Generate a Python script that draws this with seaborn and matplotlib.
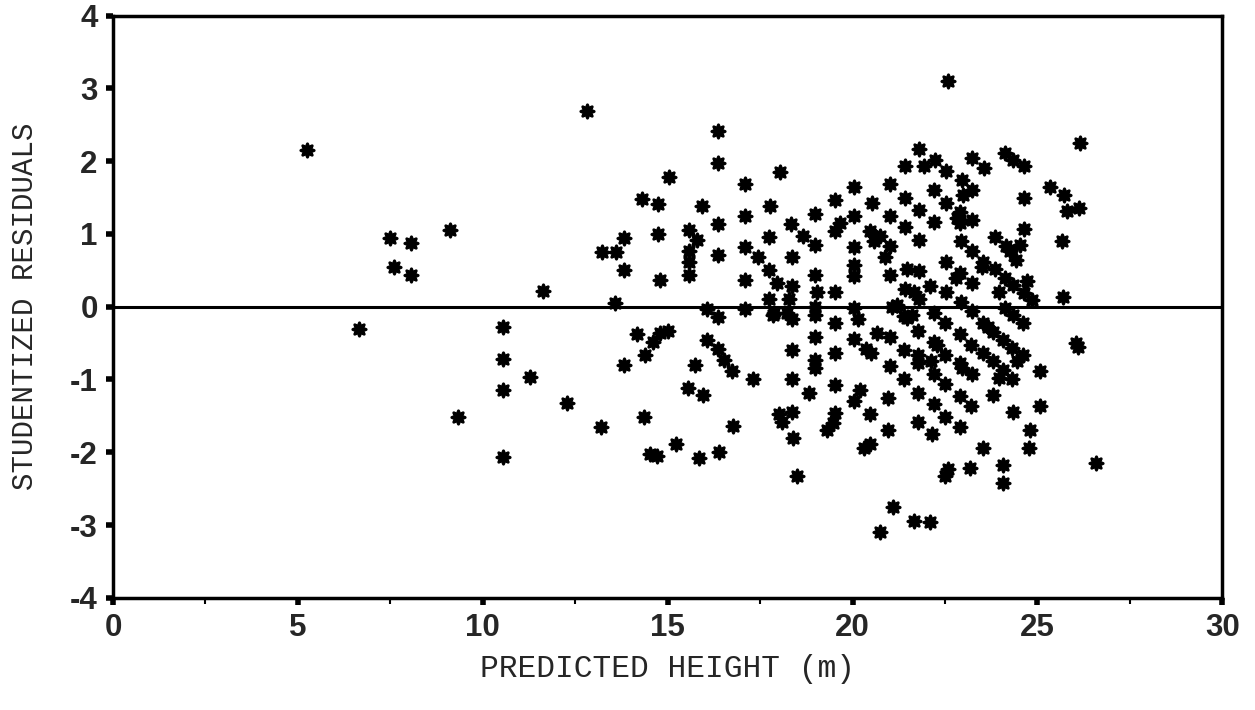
import pandas as pd
import seaborn as sns
import matplotlib.pyplot as plt
from matplotlib.ticker import MultipleLocator

# predicted height (m) and studentized residual
pred_height = [
    5.24, 7.49, 8.05, 9.12, 7.60, 8.05, 6.66, 9.34, 10.56, 10.56,
    10.56, 10.56, 11.28, 12.29, 13.19, 13.82, 14.17, 14.39, 14.61, 14.80,
    15.02, 14.37, 14.53, 14.71, 15.23, 15.86, 16.38, 15.56, 15.95, 15.74,
    16.06, 16.35, 16.51, 16.73, 16.78, 13.58, 16.06, 16.35, 12.83, 11.64,
    13.22, 13.61, 13.82, 13.82, 14.30, 14.75, 14.75, 14.80, 15.04, 15.92,
    15.58, 15.80, 15.58, 15.58, 15.58, 16.37, 16.37, 16.37, 16.35, 17.09,
    17.09, 17.09, 17.09, 17.09, 18.04, 17.77, 17.75, 17.43, 17.75, 17.97,
    17.75, 18.33, 18.66, 18.36, 18.36, 18.29, 17.88, 18.24, 18.99, 18.99,
    18.99, 19.03, 18.99, 19.53, 19.67, 19.53, 19.53, 20.04, 20.04, 20.04,
    20.04, 20.04, 20.04, 20.52, 20.48, 20.61, 20.57, 20.75, 21.00, 21.00,
    21.00, 20.88, 21.00, 21.06, 21.20, 21.42, 21.42, 21.42, 21.47, 21.42,
    21.65, 21.81, 21.92, 22.23, 21.81, 21.81, 21.81, 21.81, 22.19, 22.19,
    22.10, 22.19, 22.53, 22.53, 22.53, 22.53, 21.38, 17.30, 17.86, 18.36,
    18.36, 18.36, 18.00, 18.09, 18.36, 18.40, 18.49, 18.99, 18.99, 18.99,
    18.99, 18.81, 19.53, 19.53, 19.53, 19.53, 19.47, 19.30, 20.16, 20.04,
    20.37, 20.49, 20.21, 20.04, 20.48, 20.48, 20.30, 20.66, 21.00, 21.00,
    20.97, 20.97, 21.09, 20.75, 21.65, 22.10, 21.38, 21.38, 21.47, 21.60,
    21.78, 21.78, 21.78, 21.78, 21.78, 22.12, 22.19, 22.19, 22.19, 22.14,
    22.50, 22.50, 22.50, 22.50, 22.50, 22.57, 22.57, 26.14, 23.23, 23.56,
    24.13, 24.35, 24.64, 22.96, 23.23, 22.98, 24.64, 25.33, 25.71, 25.81,
    26.11, 22.91, 22.82, 22.91, 23.23, 24.64, 25.66, 23.86, 24.15, 24.26,
    24.52, 24.42, 22.93, 23.23, 23.52, 23.50, 23.86, 22.91, 22.80, 23.23,
    24.13, 24.34, 24.73, 23.95, 24.64, 24.85, 22.93, 25.69, 23.23, 24.13,
    24.34, 24.62, 23.54, 23.65, 23.81, 22.91, 22.28, 23.20, 24.08, 24.31,
    24.62, 23.54, 23.81, 24.46, 22.91, 22.96, 23.23, 24.08, 23.95, 24.31,
    25.07, 23.81, 22.91, 23.20, 24.34, 25.07, 22.91, 24.80, 23.52, 24.76,
    23.18, 24.08, 24.08, 26.59, 26.03, 26.10,
]
residuals = [
    2.15, 0.95, 0.88, 1.05, 0.55, 0.44, -0.31, -1.52, -0.28, -0.72,
    -1.15, -2.06, -0.97, -1.32, -1.65, -0.80, -0.38, -0.66, -0.48, -0.36,
    -0.34, -1.51, -2.02, -2.05, -1.88, -2.08, -1.99, -1.12, -1.21, -0.80,
    -0.46, -0.58, -0.73, -0.88, -1.64, 0.05, -0.03, -0.14, 2.69, 0.21,
    0.75, 0.75, 0.94, 0.51, 1.48, 1.41, 1.00, 0.37, 1.78, 1.38,
    1.06, 0.92, 0.76, 0.61, 0.44, 2.41, 1.97, 1.14, 0.71, 1.68,
    1.25, 0.82, 0.37, -0.03, 1.85, 1.38, 0.96, 0.68, 0.51, 0.33,
    0.11, 1.13, 0.97, 0.69, 0.28, 0.11, -0.09, -0.09, 1.28, 0.85,
    0.44, 0.20, 0.00, 1.47, 1.15, 1.04, 0.20, 1.65, 1.25, 0.82,
    0.58, 0.42, -0.02, 1.43, 1.04, 0.97, 0.90, 0.97, 0.84, 1.68,
    1.25, 0.68, 0.44, 0.00, 0.03, 1.93, 1.49, 1.09, 0.52, 0.24,
    0.20, 2.17, 1.93, 2.01, 1.33, 0.92, 0.49, 0.10, 1.60, 1.17,
    0.28, -0.09, 1.87, 1.43, 0.62, 0.20, -0.13, -1.00, -0.11, -0.17,
    -0.60, -1.00, -1.48, -1.58, -1.44, -1.80, -2.32, -0.11, -0.41, -0.73,
    -0.84, -1.18, -0.22, -0.63, -1.07, -1.46, -1.60, -1.70, -0.17, -0.44,
    -0.58, -0.63, -1.14, -1.29, -1.48, -1.88, -1.94, -0.36, -0.41, -0.82,
    -1.25, -1.69, -2.75, -3.10, -2.94, -2.96, -0.60, -1.00, -0.16, -0.12,
    -0.34, -0.67, -0.77, -1.18, -1.59, -0.75, -0.49, -0.93, -1.33, -1.75,
    -0.22, -0.66, -1.06, -1.51, -2.33, -2.23, 3.10, 2.25, 2.04, 1.90,
    2.11, 2.01, 1.93, 1.74, 1.61, 1.53, 1.49, 1.65, 1.53, 1.32,
    1.36, 1.30, 1.22, 1.15, 1.19, 1.07, 0.90, 0.96, 0.84, 0.76,
    0.85, 0.64, 0.90, 0.76, 0.62, 0.55, 0.52, 0.47, 0.39, 0.33,
    0.39, 0.30, 0.36, 0.20, 0.19, 0.09, 0.07, 0.14, -0.06, -0.02,
    -0.12, -0.23, -0.22, -0.28, -0.35, -0.37, -0.52, -0.52, -0.46, -0.57,
    -0.66, -0.64, -0.75, -0.75, -0.77, -0.84, -0.92, -0.87, -0.98, -1.00,
    -0.89, -1.21, -1.22, -1.37, -1.45, -1.36, -1.65, -1.69, -1.94, -1.94,
    -2.22, -2.17, -2.42, -2.15, -0.50, -0.56,
]

df = pd.DataFrame({"height": pred_height, "resid": residuals})

sns.set_style("white")
plt.rcParams["axes.unicode_minus"] = False
fig = plt.figure(figsize=(12.55, 7.10), dpi=100)
ax = fig.add_axes([0.090, 0.158, 0.884, 0.820])

sns.scatterplot(data=df, x="height", y="resid", marker=(8, 1, 0), s=90,
                color="black", edgecolor="black", linewidth=2.2, ax=ax, zorder=3)
ax.axhline(0, color="black", lw=2.2, zorder=2)

ax.set_xlim(0, 30)
ax.set_ylim(-4, 4)
ax.xaxis.set_major_locator(MultipleLocator(5))
ax.xaxis.set_minor_locator(MultipleLocator(2.5))
ax.yaxis.set_major_locator(MultipleLocator(1))

for side in ["left", "bottom", "right", "top"]:
    ax.spines[side].set_linewidth(2.5)
    ax.spines[side].set_color("black")

ax.tick_params(axis="both", which="major", direction="out", length=5, width=4,
               color="black", left=True, bottom=True, pad=6)
ax.tick_params(axis="x", which="minor", direction="out", length=4, width=1.5,
               color="black", bottom=True)

for lbl in ax.get_xticklabels() + ax.get_yticklabels():
    lbl.set_fontfamily("Liberation Sans")
    lbl.set_fontweight("bold")
    lbl.set_fontsize(22.5)

ax.set_xlabel("PREDICTED HEIGHT (m)", family="Liberation Mono", fontsize=22.5, labelpad=8)
ax.set_ylabel("STUDENTIZED RESIDUALS", family="Liberation Mono", fontsize=21, labelpad=22)

fig.savefig("out.png", dpi=100)
